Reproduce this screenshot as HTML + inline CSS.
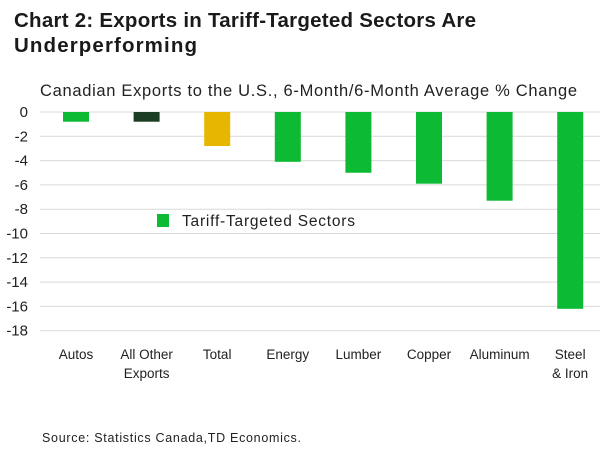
<!DOCTYPE html>
<html><head><meta charset="utf-8"><style>
body{margin:0;background:#fff;width:600px;height:448px;overflow:hidden;font-family:"Liberation Sans",sans-serif}
</style></head><body>
<svg width="600" height="448" xmlns="http://www.w3.org/2000/svg">
<text x="14" y="27" font-size="20.5" font-weight="bold" fill="#1a1a1a" textLength="462" lengthAdjust="spacing">Chart 2: Exports in Tariff-Targeted Sectors Are</text>
<text x="14" y="52" font-size="20.5" font-weight="bold" fill="#1a1a1a" textLength="183" lengthAdjust="spacing">Underperforming</text>
<text x="40" y="96" font-size="16.5" fill="#222" textLength="537" lengthAdjust="spacing">Canadian Exports to the U.S., 6-Month/6-Month Average % Change</text>
<g id="grid"></g><g id="bars"></g><g id="yt"></g><g id="xt"></g>
<rect x="157" y="214" width="12" height="13" fill="#0dba33"/>
<text x="182" y="226" font-size="15.5" fill="#222" textLength="173" lengthAdjust="spacing">Tariff-Targeted Sectors</text>
<text x="42" y="442" font-size="12.5" fill="#222" textLength="259" lengthAdjust="spacing">Source: Statistics Canada,TD Economics.</text>
</svg>
<script>
const categories=[["Autos"],["All Other","Exports"],["Total"],["Energy"],["Lumber"],["Copper"],["Aluminum"],["Steel","& Iron"]];
const values=[-0.8,-0.8,-2.8,-4.1,-5.0,-5.9,-7.3,-16.2];
const colors=["#0dba33","#1b3d24","#e7b600","#0dba33","#0dba33","#0dba33","#0dba33","#0dba33"];
const yTicks=[0,-2,-4,-6,-8,-10,-12,-14,-16,-18];
const NS="http://www.w3.org/2000/svg";
const y=v=>112-v*12.15;
const x=i=>76+i*70.6;
function mk(t,a,p){const e=document.createElementNS(NS,t);for(const k in a)e.setAttribute(k,a[k]);document.getElementById(p).appendChild(e);return e;}
yTicks.forEach(t=>{
 const l=mk("line",{x1:40,x2:600,y1:y(t),y2:y(t),stroke:"#d9d9d9","stroke-width":1},"grid");
 
 
 const tx=mk("text",{x:28,y:y(t)+5,"font-size":15,"text-anchor":"end",fill:"#222"},"yt");
 tx.textContent=t;
 
 
});
values.forEach((v,i)=>{
 const r=mk("rect",{x:x(i)-13,y:y(0),width:26,height:y(v)-y(0),fill:colors[i]},"bars");
 
 
 categories[i].forEach((s,j)=>{
  const tx=mk("text",{x:x(i),y:359+j*19,"font-size":13.5,"text-anchor":"middle",fill:"#222"},"xt");
  tx.textContent=s;
  
  
 });
});
</script>
</body></html>
